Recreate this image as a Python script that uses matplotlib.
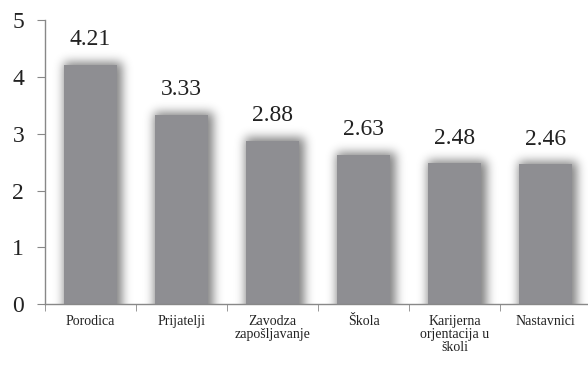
import matplotlib
matplotlib.use("Agg")
import matplotlib.pyplot as plt
import numpy as np

categories = ["Porodica", "Prijatelji", "Zavodza\nzapošljavanje", "Škola",
              "Karijerna\norjentacija u\nškoli", "Nastavnici"]
values = [4.21, 3.33, 2.88, 2.63, 2.48, 2.46]
y_ticks = [0, 1, 2, 3, 4, 5]

FONT = "Liberation Serif"
plt.rcParams['font.family'] = FONT

fig = plt.figure(figsize=(5.88, 3.66), dpi=100)
ax = fig.add_axes([0.0765, 0.169, 0.929, 0.776])

n = len(categories)
xs = np.arange(n)
bar_w = 0.58
bar_color = "#8e8e92"
ymax = 5

# soft blurred shadow behind the bars, rendered on a pixel grid
W, H = 546, 284
gx = np.linspace(-0.5, n - 0.5, W)
gy = np.linspace(0, ymax, H)
GX, GY = np.meshgrid(gx, gy)
mask = np.zeros((H, W))
dx, dy = 2.0 / 91.0, 2.0 / 56.8
for x, v in zip(xs, values):
    inside = (np.abs(GX - x - dx) <= bar_w / 2 + 3.0 / 91.0) & (GY <= v + dy)
    mask[inside] = 1.0

def blur(a, sigma):
    r = int(3 * sigma)
    k = np.exp(-0.5 * (np.arange(-r, r + 1) / sigma) ** 2)
    k /= k.sum()
    pad = np.pad(a, r, mode="edge")
    tmp = np.apply_along_axis(lambda m: np.convolve(m, k, mode="valid"), 1, pad)
    return np.apply_along_axis(lambda m: np.convolve(m, k, mode="valid"), 0, tmp)

shadow = blur(mask, 5.0)
rgba = np.zeros((H, W, 4))
rgba[..., 3] = np.clip(shadow * 0.5, 0, 1)
ax.imshow(rgba, extent=(-0.5, n - 0.5, 0, ymax), origin="lower",
          aspect="auto", interpolation="bilinear", zorder=1)

ax.bar(xs, values, width=bar_w, color=bar_color, zorder=2)

for x, v in zip(xs, values):
    ax.text(x, v + 0.26, f"{v:.2f}", ha="center", va="bottom",
            fontsize=17, color="#222222", zorder=3, family=FONT)

ax.set_xlim(-0.5, n - 0.5)
ax.set_ylim(0, ymax)
ax.set_yticks(y_ticks)
ax.set_yticklabels([str(t) for t in y_ticks], fontsize=17, color="#222222",
                   family=FONT)
ax.set_xticks(xs)
ax.set_xticklabels(categories, fontsize=10, color="#222222", linespacing=1.0,
                   family=FONT)
ax.set_xticks([i - 0.5 for i in range(n + 1)], minor=True)

ax.tick_params(axis="x", which="major", length=0, pad=8)
ax.tick_params(axis="x", which="minor", length=5, color="#888888", direction="out")
ax.tick_params(axis="y", length=6, color="#888888", direction="out", pad=9)

for side in ["top", "right"]:
    ax.spines[side].set_visible(False)
for side in ["left", "bottom"]:
    ax.spines[side].set_color("#888888")
    ax.spines[side].set_linewidth(1.0)

fig.savefig("out.png", dpi=100, facecolor="white")
